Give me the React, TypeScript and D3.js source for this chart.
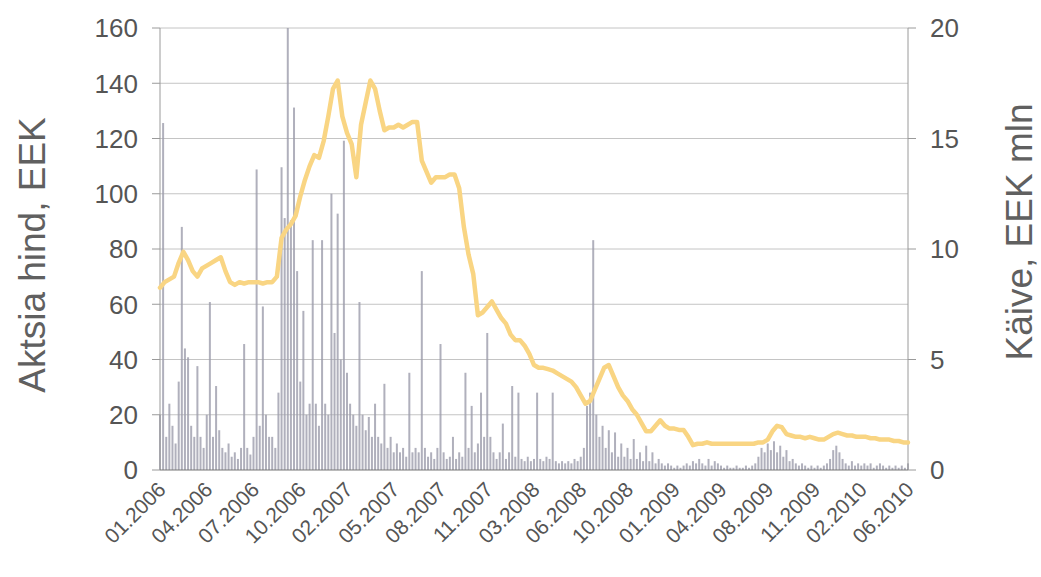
import { useEffect, useRef } from 'react';
import * as d3 from 'd3';

// x axis labels (category axis, evenly spaced)
const dateLabels = [
  '01.2006', '04.2006', '07.2006', '10.2006', '02.2007', '05.2007', '08.2007', '11.2007',
  '03.2008', '06.2008', '10.2008', '01.2009', '04.2009', '08.2009', '11.2009', '02.2010', '06.2010',
];

// share price, EEK (left axis), sampled evenly across the period
const price = [
  66, 68, 69, 70, 75, 79, 76, 72, 70, 73,
  74, 75, 76, 77, 72, 68, 67, 68, 67.5, 68,
  68, 68, 67.5, 68, 68, 70, 84, 87, 89, 92,
  99, 105, 110, 114, 113, 119, 128, 138, 141, 128,
  122, 118, 106, 125, 133, 141, 138, 130, 123, 124,
  124, 125, 124, 125, 126, 126, 112, 108, 104, 106,
  106, 106, 107, 107, 102, 88, 78, 71, 56, 57,
  59, 61, 58, 55, 53, 49, 47, 47, 45, 42,
  38, 37, 37, 36.5, 36, 35, 34, 33, 32, 30,
  27, 24, 25, 29, 33, 37, 38, 34, 30, 27,
  25, 22, 20, 17, 14, 14, 16, 18, 16, 15,
  15, 14.5, 14.5, 12, 9, 9.5, 9.5, 10, 9.5, 9.5,
  9.5, 9.5, 9.5, 9.5, 9.5, 9.5, 9.5, 9.5, 10, 10,
  11, 14, 16, 15.5, 13, 12.5, 12, 12, 11.5, 12,
  11.5, 11, 11, 12, 13, 13.5, 13, 12.5, 12.5, 12,
  12, 12, 11.5, 11.5, 11, 11, 11, 10.5, 10.5, 10,
  10,
];

// turnover, EEK mln (right axis)
const turnover = [
  2.5, 15.7, 1.5, 3.0, 2.0, 1.2, 4.0, 11.0, 5.5, 5.1,
  2.0, 1.5, 4.7, 1.5, 1.0, 2.5, 7.6, 1.5, 3.8, 1.8,
  1.0, 0.8, 1.2, 0.6, 0.8, 0.5, 1.0, 5.7, 1.0, 0.7,
  1.5, 13.6, 2.0, 7.4, 2.5, 1.5, 1.5, 1.0, 3.5, 13.7,
  11.4, 20, 11.3, 16.4, 9.0, 4.0, 7.2, 2.5, 3.0, 10.4,
  3.0, 2.0, 10.4, 3.0, 2.5, 12.5, 6.2, 11.6, 5.0, 14.9,
  4.4, 3.0, 2.5, 2.0, 7.6, 2.5, 1.8, 2.4, 1.5, 3.0,
  1.5, 1.2, 3.9, 1.0, 1.5, 0.8, 1.2, 0.8, 1.0, 0.6,
  4.4, 0.8, 1.0, 0.8, 9.0, 1.0, 0.6, 0.8, 0.5, 1.0,
  5.7, 0.8, 0.5, 0.6, 1.5, 0.5, 0.8, 0.6, 4.4, 1.0,
  2.9, 0.8, 1.2, 3.5, 1.5, 6.2, 1.5, 0.8, 0.5, 0.8,
  2.1, 0.5, 0.8, 3.8, 0.6, 3.5, 0.5, 0.4, 0.6, 0.4,
  0.5, 3.5, 0.5, 0.4, 0.6, 0.5, 3.5, 0.4, 0.3, 0.4,
  0.3, 0.4, 0.3, 0.5, 0.4, 0.6, 1.0, 2.9, 3.5, 10.4,
  2.5, 1.5, 2.0, 1.0, 1.8, 0.8, 1.7, 0.6, 1.2, 0.6,
  1.0, 0.5, 1.4, 0.5, 0.8, 0.4, 1.1, 0.4, 0.8, 0.3,
  0.5, 0.3, 0.2, 0.3, 0.2, 0.1, 0.2, 0.1, 0.2, 0.3,
  0.2, 0.4, 0.3, 0.5, 0.3, 0.2, 0.5, 0.2, 0.4, 0.3,
  0.2, 0.1, 0.2, 0.1, 0.1, 0.2, 0.1, 0.1, 0.2, 0.1,
  0.2, 0.3, 0.6, 1.0, 0.8, 1.2, 0.9, 1.3, 0.8, 1.1,
  0.6, 0.9, 0.4, 0.5, 0.3, 0.2, 0.3, 0.2, 0.1, 0.2,
  0.1, 0.2, 0.1, 0.2, 0.3, 0.5, 0.9, 1.1, 0.8, 0.5,
  0.3, 0.2, 0.4, 0.2, 0.3, 0.2, 0.3, 0.2, 0.3, 0.1,
  0.2, 0.3, 0.2, 0.1, 0.2, 0.1, 0.2, 0.1, 0.2, 0.1,
  0.3,
];

const leftTicks = [0, 20, 40, 60, 80, 100, 120, 140, 160];
const rightTicks = [0, 5, 10, 15, 20];

const FONT = '"Liberation Sans", Arial, sans-serif';

const App = () => {
  const svgRef = useRef(null);

  useEffect(() => {
    const svg = d3.select(svgRef.current);
    svg.selectAll('*').remove();

    const x0 = 160, x1 = 908, yTop = 28, yBottom = 470;

    const xPrice = d3.scaleLinear().domain([0, price.length - 1]).range([x0, x1]);
    const xVol = d3.scaleLinear().domain([0, turnover.length - 1]).range([x0, x1]);
    const xLabel = d3.scaleLinear().domain([0, dateLabels.length - 1]).range([x0, x1]);
    const yLeft = d3.scaleLinear().domain([0, 160]).range([yBottom, yTop]);
    const yRight = d3.scaleLinear().domain([0, 20]).range([yBottom, yTop]);

    // horizontal grid
    svg.append('g')
      .selectAll('line')
      .data(leftTicks.slice(1))
      .enter()
      .append('line')
      .attr('x1', x0).attr('x2', x1)
      .attr('y1', d => yLeft(d)).attr('y2', d => yLeft(d))
      .attr('stroke', '#c4c4c4')
      .attr('stroke-width', 1);

    // turnover spikes
    svg.append('g')
      .selectAll('rect')
      .data(turnover)
      .enter()
      .append('rect')
      .attr('x', (_, i) => xVol(i) - 1)
      .attr('width', 2)
      .attr('y', d => yRight(d))
      .attr('height', d => yRight(0) - yRight(d))
      .attr('fill', '#9c9cab')
      .attr('opacity', 0.8);

    // axes lines
    svg.append('line')
      .attr('x1', x0).attr('x2', x0).attr('y1', yTop).attr('y2', yBottom)
      .attr('stroke', '#9a9a9a');
    svg.append('line')
      .attr('x1', x1).attr('x2', x1).attr('y1', yTop).attr('y2', yBottom)
      .attr('stroke', '#9a9a9a');
    svg.append('line')
      .attr('x1', x0).attr('x2', x1).attr('y1', yBottom).attr('y2', yBottom)
      .attr('stroke', '#777');

    // price line
    const line = d3.line<number>()
      .x((_, i) => xPrice(i))
      .y(d => yLeft(d))
      .curve(d3.curveLinear);

    svg.append('path')
      .datum(price)
      .attr('fill', 'none')
      .attr('stroke', '#f9d583')
      .attr('stroke-width', 4.5)
      .attr('stroke-linejoin', 'round')
      .attr('stroke-linecap', 'round')
      .attr('d', line);

    // left axis
    const left = svg.append('g').attr('transform', `translate(${x0},0)`);
    left.selectAll('line')
      .data(leftTicks)
      .enter()
      .append('line')
      .attr('x1', -8).attr('x2', 0)
      .attr('y1', d => yLeft(d)).attr('y2', d => yLeft(d))
      .attr('stroke', '#9a9a9a');
    left.selectAll('text')
      .data(leftTicks)
      .enter()
      .append('text')
      .attr('x', -22)
      .attr('y', d => yLeft(d))
      .attr('dy', '0.36em')
      .attr('text-anchor', 'end')
      .attr('font-family', FONT)
      .attr('font-size', 26)
      .attr('fill', '#555')
      .text(d => d);

    // right axis
    const right = svg.append('g').attr('transform', `translate(${x1},0)`);
    right.selectAll('line')
      .data(rightTicks)
      .enter()
      .append('line')
      .attr('x1', 0).attr('x2', 8)
      .attr('y1', d => yRight(d)).attr('y2', d => yRight(d))
      .attr('stroke', '#9a9a9a');
    right.selectAll('text')
      .data(rightTicks)
      .enter()
      .append('text')
      .attr('x', 22)
      .attr('y', d => yRight(d))
      .attr('dy', '0.36em')
      .attr('text-anchor', 'start')
      .attr('font-family', FONT)
      .attr('font-size', 26)
      .attr('fill', '#555')
      .text(d => d);

    // bottom labels
    svg.append('g')
      .selectAll('text')
      .data(dateLabels)
      .enter()
      .append('text')
      .attr('transform', (_, i) => `translate(${xLabel(i) + 7},${yBottom + 21}) rotate(-45)`)
      .attr('text-anchor', 'end')
      .attr('font-family', FONT)
      .attr('font-size', 21)
      .attr('fill', '#555')
      .text(d => d);

    // axis titles
    svg.append('text')
      .attr('transform', `translate(45,255) rotate(-90)`)
      .attr('text-anchor', 'middle')
      .attr('font-family', FONT)
      .attr('font-size', 37)
      .attr('fill', '#606060')
      .text('Aktsia hind, EEK');

    svg.append('text')
      .attr('transform', `translate(1032,232) rotate(-90)`)
      .attr('text-anchor', 'middle')
      .attr('font-family', FONT)
      .attr('font-size', 37)
      .attr('fill', '#606060')
      .text('Käive, EEK mln');
  }, []);

  return (
    <svg
      ref={svgRef}
      width={1041}
      height={577}
      style={{ position: 'absolute', left: 0, top: 0, background: '#fff' }}
    />
  );
};

export default App;
